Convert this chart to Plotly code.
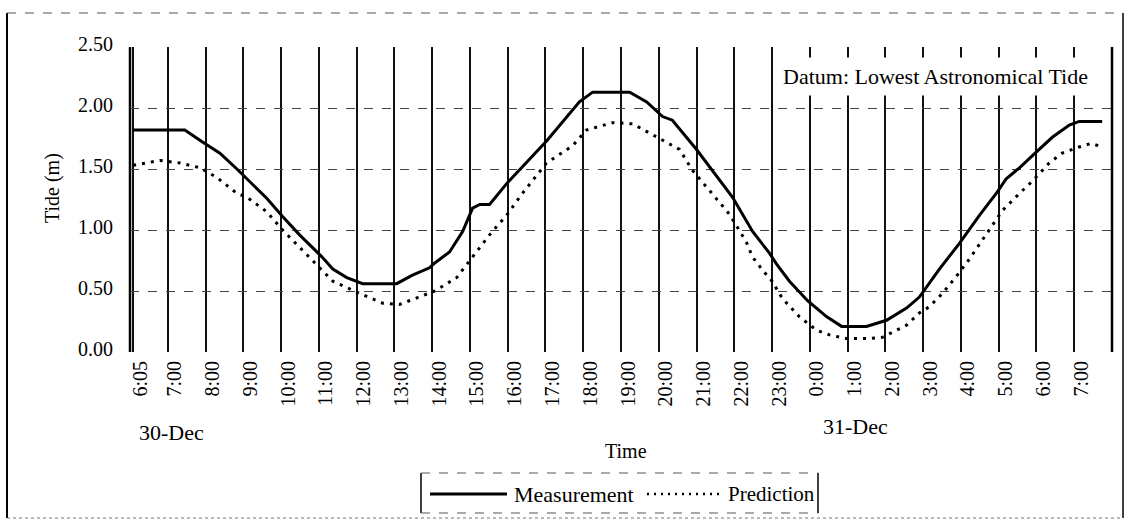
import plotly.graph_objects as go

# ---------------- data (hours counted from 30-Dec 00:00) ----------------
meas_hours = [6.083, 7.45, 7.93, 8.38, 8.83, 9.62, 10.04, 10.49, 11.08, 11.37,
              11.74, 12.16, 13.06, 13.48, 13.93, 14.07, 14.46, 14.81, 15.07, 15.26,
              15.52, 16.00, 17.03, 17.90, 18.25, 19.23, 19.68, 20.10, 20.36, 21.00,
              21.95, 22.48, 22.93, 23.12, 23.46, 23.94, 24.44, 24.84, 25.50, 26.03,
              26.56, 26.90, 27.43, 27.96, 28.49, 28.96, 29.20, 29.55, 30.00, 30.42,
              30.87, 31.13, 31.74]
meas_tide = [1.82, 1.82, 1.72, 1.63, 1.50, 1.26, 1.11, 0.96, 0.78, 0.68,
             0.61, 0.56, 0.56, 0.63, 0.69, 0.73, 0.82, 0.99, 1.18, 1.21,
             1.21, 1.39, 1.73, 2.05, 2.13, 2.13, 2.05, 1.93, 1.90, 1.66,
             1.27, 0.99, 0.81, 0.72, 0.58, 0.42, 0.29, 0.21, 0.21, 0.26,
             0.36, 0.45, 0.68, 0.89, 1.12, 1.31, 1.42, 1.51, 1.64, 1.76,
             1.86, 1.89, 1.89]

pred_hours = [6.083, 6.79, 7.32, 7.85, 8.30, 8.83, 9.09, 9.62, 10.04, 10.49,
              11.08, 11.37, 12.08, 12.69, 13.14, 13.48, 14.07, 14.65, 15.07, 15.52,
              15.97, 16.39, 17.03, 17.72, 18.09, 18.78, 19.31, 19.83, 20.55, 20.89,
              21.42, 21.87, 22.32, 22.48, 22.75, 23.00, 23.27, 23.72, 24.17, 24.52,
              24.97, 25.50, 25.92, 26.19, 26.56, 26.90, 27.16, 27.51, 27.88, 28.22,
              28.49, 28.80, 29.10, 29.55, 29.89, 30.34, 30.68, 31.13, 31.45, 31.74]
pred_tide = [1.53, 1.57, 1.55, 1.51, 1.43, 1.30, 1.27, 1.15, 1.00, 0.86,
             0.67, 0.58, 0.48, 0.40, 0.39, 0.43, 0.50, 0.61, 0.78, 0.96,
             1.12, 1.30, 1.55, 1.69, 1.82, 1.88, 1.87, 1.78, 1.66, 1.49,
             1.30, 1.13, 0.90, 0.78, 0.67, 0.58, 0.44, 0.29, 0.18, 0.14,
             0.11, 0.11, 0.12, 0.16, 0.22, 0.32, 0.37, 0.48, 0.62, 0.76,
             0.88, 1.02, 1.16, 1.30, 1.40, 1.55, 1.63, 1.68, 1.71, 1.68]

x_tick_hours = [6.083] + list(range(7, 32))
x_tick_text = ["6:05"] + ["%d:00" % (h % 24) for h in range(7, 32)]
y_tick_vals = [0.0, 0.5, 1.0, 1.5, 2.0, 2.5]
y_tick_text = ["0.00", "0.50", "1.00", "1.50", "2.00", "2.50"]
date_labels = ["30-Dec", "31-Dec"]
series_names = ["Measurement", "Prediction"]

# ---------------- layout geometry ----------------
W, H = 1126, 521
L, R, T, B = 130, 14, 47, 169
FONT = "Liberation Serif"


def px_x(px):
    return (px - L) / (W - L - R)


def px_y(py):
    return (H - B - py) / (H - T - B)


fig = go.Figure()
fig.add_trace(go.Scatter(x=meas_hours, y=meas_tide, mode="lines", name=series_names[0],
                         line=dict(color="black", width=3)))
fig.add_trace(go.Scatter(x=pred_hours, y=pred_tide, mode="lines", name=series_names[1],
                         line=dict(color="black", width=3, dash="3px,6px")))

fig.update_layout(
    template="none",
    width=W, height=H,
    margin=dict(l=L, r=R, t=T, b=B, autoexpand=False),
    paper_bgcolor="white", plot_bgcolor="white",
    showlegend=False,
    font=dict(family=FONT, color="black", size=20),
)
fig.update_xaxes(
    range=[6.0, 32.0], tickmode="array", tickvals=x_tick_hours, ticktext=x_tick_text,
    tickangle=-90, tickfont=dict(family=FONT, size=20, color="black"),
    showgrid=True, gridcolor="#111", gridwidth=2, zeroline=False, showline=False,
    ticks="", ticklabelshift=7, ticklabelstandoff=4, automargin=False,
)
fig.update_yaxes(
    range=[0, 2.5], tickmode="array", tickvals=y_tick_vals, ticktext=y_tick_text,
    tickfont=dict(family=FONT, size=20, color="black"),
    showgrid=True, gridcolor="#444", gridwidth=1, griddash="dash",
    zeroline=False, showline=False, ticks="", ticklabelstandoff=16,
    ticklabelshift=-3, automargin=False,
)

shapes = []
# plot frame: solid left and right edges
shapes.append(dict(type="line", xref="paper", yref="paper", x0=0, x1=0, y0=0, y1=1,
                   line=dict(color="black", width=2.5)))
shapes.append(dict(type="line", xref="paper", yref="paper", x0=1, x1=1, y0=0, y1=1,
                   line=dict(color="black", width=2.5)))
# outer chart border
ox0, ox1, oy0, oy1 = px_x(7), px_x(1123), px_y(518), px_y(13)
shapes.append(dict(type="line", xref="paper", yref="paper", x0=ox0, x1=ox0, y0=oy0, y1=oy1,
                   line=dict(color="black", width=2)))
shapes.append(dict(type="line", xref="paper", yref="paper", x0=ox1, x1=ox1, y0=oy0, y1=oy1,
                   line=dict(color="black", width=1.5)))
shapes.append(dict(type="line", xref="paper", yref="paper", x0=ox0, x1=ox1, y0=oy1, y1=oy1,
                   line=dict(color="#555", width=1, dash="dash")))
shapes.append(dict(type="line", xref="paper", yref="paper", x0=ox0, x1=ox1, y0=oy0, y1=oy0,
                   line=dict(color="#777", width=1, dash="dot")))
# legend box
lx0, lx1, ly0, ly1 = px_x(421), px_x(818), px_y(513), px_y(473)
shapes.append(dict(type="line", xref="paper", yref="paper", x0=lx0, x1=lx0, y0=ly0, y1=ly1,
                   line=dict(color="black", width=1.5)))
shapes.append(dict(type="line", xref="paper", yref="paper", x0=lx1, x1=lx1, y0=ly0, y1=ly1,
                   line=dict(color="black", width=1.5)))
shapes.append(dict(type="line", xref="paper", yref="paper", x0=lx0, x1=lx1, y0=ly1, y1=ly1,
                   line=dict(color="#555", width=1, dash="dash")))
shapes.append(dict(type="line", xref="paper", yref="paper", x0=lx0, x1=lx1, y0=ly0, y1=ly0,
                   line=dict(color="#555", width=1, dash="dash")))
# legend samples
ly = px_y(494)
shapes.append(dict(type="line", xref="paper", yref="paper", x0=px_x(430), x1=px_x(507),
                   y0=ly, y1=ly, line=dict(color="black", width=3)))
shapes.append(dict(type="line", xref="paper", yref="paper", x0=px_x(647), x1=px_x(720),
                   y0=ly, y1=ly, line=dict(color="black", width=2.5, dash="2px,5px")))
fig.update_layout(shapes=shapes)

ann = []
ann.append(dict(text=series_names[0], xref="paper", yref="paper", x=px_x(512), y=ly,
                xanchor="left", yanchor="middle", showarrow=False,
                font=dict(family=FONT, size=22, color="black")))
ann.append(dict(text=series_names[1], xref="paper", yref="paper", x=px_x(726), y=ly,
                xanchor="left", yanchor="middle", showarrow=False,
                font=dict(family=FONT, size=21, color="black")))
ann.append(dict(text="Datum: Lowest Astronomical Tide", xref="paper", yref="paper",
                x=px_x(935), y=px_y(76), xanchor="center", yanchor="middle",
                showarrow=False, bgcolor="white", borderpad=6,
                font=dict(family=FONT, size=22, color="black")))
ann.append(dict(text="Tide (m)", xref="paper", yref="paper", x=px_x(52), y=px_y(188),
                xanchor="center", yanchor="middle", textangle=-90, showarrow=False,
                font=dict(family=FONT, size=20, color="black")))
ann.append(dict(text="Time", xref="paper", yref="paper", x=px_x(626), y=px_y(451),
                xanchor="center", yanchor="middle", showarrow=False,
                font=dict(family=FONT, size=20, color="black")))
ann.append(dict(text=date_labels[0], xref="paper", yref="paper", x=px_x(137), y=px_y(432),
                xanchor="left", yanchor="middle", showarrow=False,
                font=dict(family=FONT, size=22, color="black")))
ann.append(dict(text=date_labels[1], xref="paper", yref="paper", x=px_x(821), y=px_y(426),
                xanchor="left", yanchor="middle", showarrow=False,
                font=dict(family=FONT, size=22, color="black")))
fig.update_layout(annotations=ann)

fig.write_html("out.html")
